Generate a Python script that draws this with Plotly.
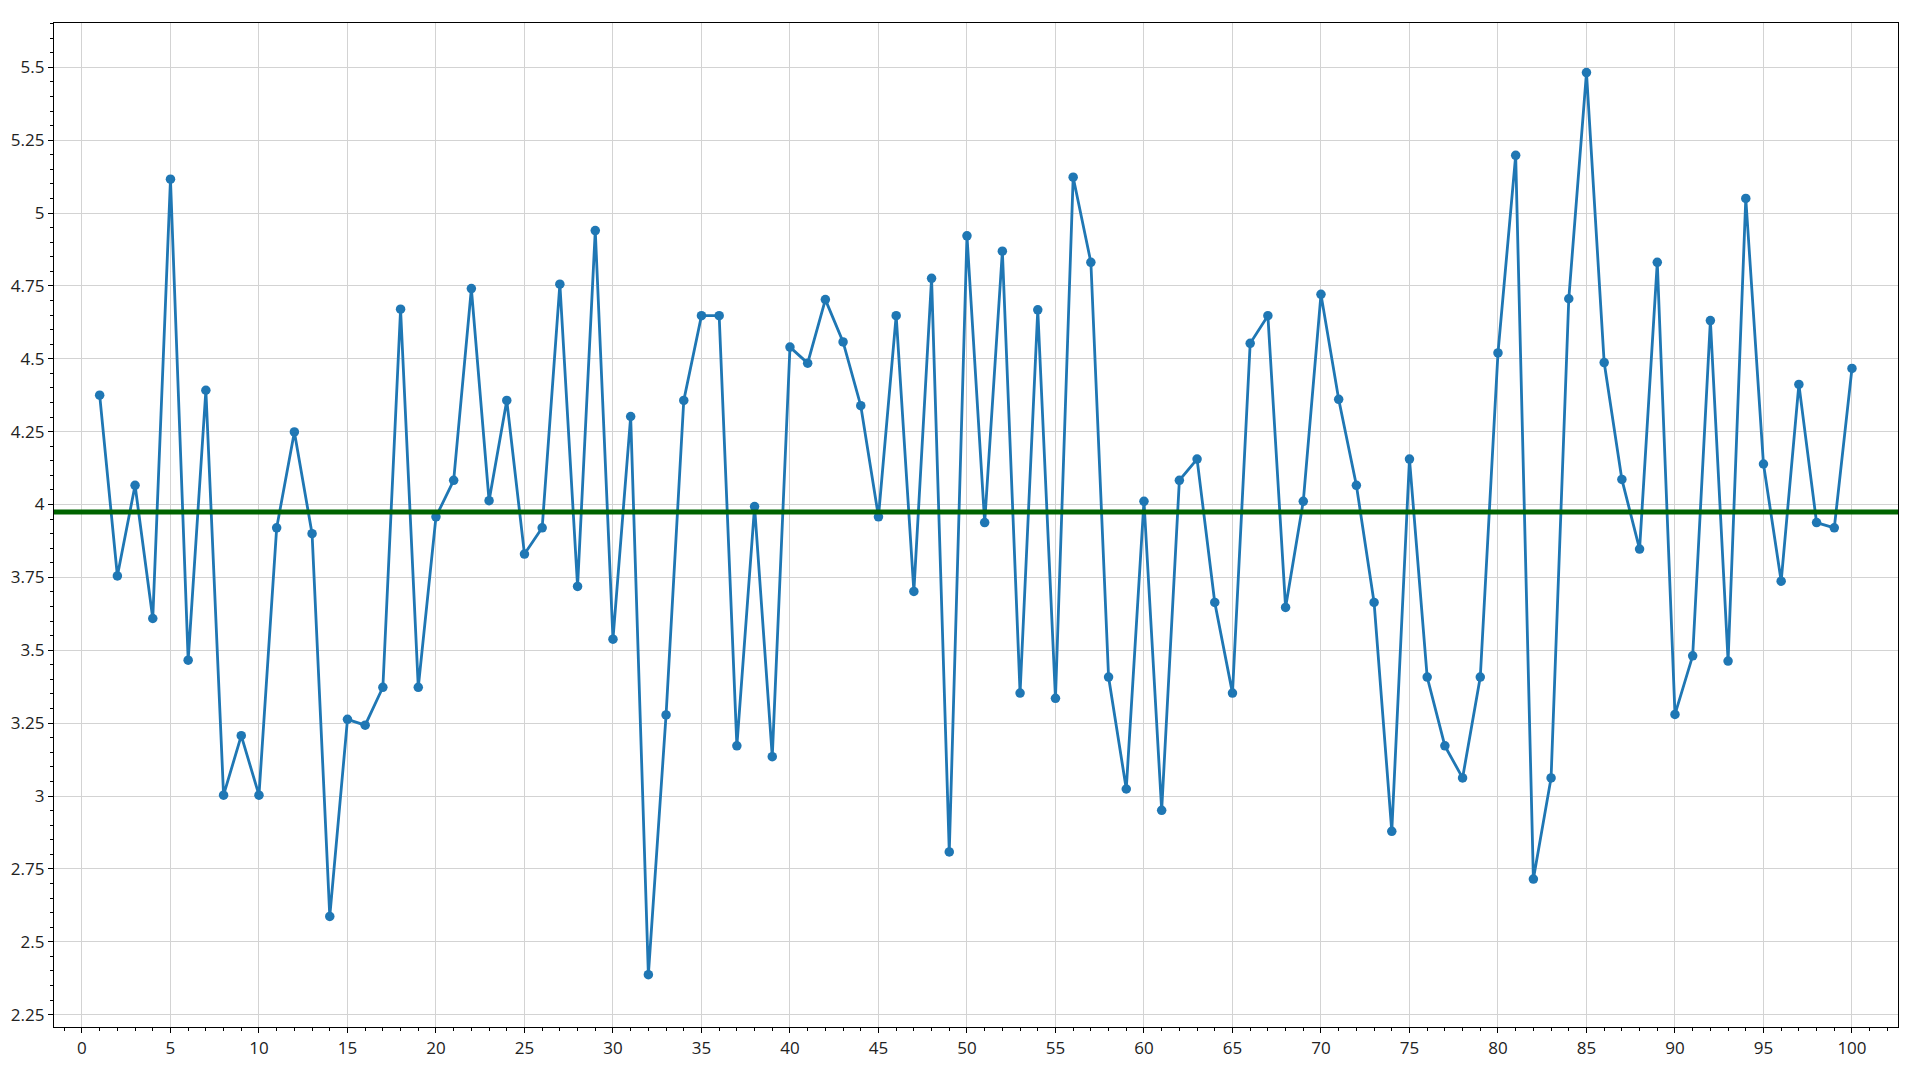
import plotly.graph_objects as go

x_vals = list(range(1, 101))
y_vals = [
    4.375, 3.755, 4.066, 3.609, 5.116, 3.466, 4.392, 3.003, 3.207, 3.003,
    3.920, 4.249, 3.900, 2.587, 3.263, 3.243, 3.373, 4.670, 3.373, 3.958,
    4.083, 4.741, 4.013, 4.357, 3.830, 3.920, 4.756, 3.719, 4.940, 3.538,
    4.302, 2.387, 3.278, 4.357, 4.648, 4.648, 3.172, 3.993, 3.135, 4.540,
    4.485, 4.703, 4.558, 4.339, 3.958, 4.648, 3.702, 4.776, 2.808, 4.922,
    3.938, 4.869, 3.353, 4.668, 3.335, 5.123, 4.831, 3.408, 3.024, 4.011,
    2.951, 4.083, 4.156, 3.664, 3.353, 4.553, 4.648, 3.647, 4.011, 4.721,
    4.361, 4.066, 3.664, 2.879, 4.156, 3.408, 3.172, 3.062, 3.408, 4.520,
    5.198, 2.715, 3.062, 4.706, 5.482, 4.487, 4.086, 3.847, 4.831, 3.280,
    3.481, 4.631, 3.463, 5.050, 4.139, 3.737, 4.412, 3.938, 3.920, 4.467,
]
ref_value = 3.974

x_tickvals = list(range(0, 101, 5))
x_ticktext = [str(v) for v in x_tickvals]
y_tickvals = [2.25, 2.5, 2.75, 3.0, 3.25, 3.5, 3.75, 4.0, 4.25, 4.5, 4.75, 5.0, 5.25, 5.5]
y_ticktext = ["2.25", "2.5", "2.75", "3", "3.25", "3.5", "3.75", "4", "4.25", "4.5", "4.75", "5", "5.25", "5.5"]

fig = go.Figure()
fig.add_trace(go.Scatter(
    x=x_vals, y=y_vals, mode="lines+markers",
    line=dict(color="#1f77b4", width=2.8),
    marker=dict(color="#1f77b4", size=9.5),
    showlegend=False,
))
fig.add_hline(y=ref_value, line=dict(color="#006400", width=5), layer="above")

axis_common = dict(
    showline=True, linecolor="black", linewidth=1.3, mirror=True,
    ticks="outside", ticklen=5, tickwidth=1, tickcolor="black",
    showgrid=True, gridcolor="#d3d3d3", gridwidth=1,
    zeroline=False, automargin=False,
    tickfont=dict(family="Open Sans", size=17, color="#222222"),
)

fig.update_xaxes(
    range=[-1.58, 102.6], tickmode="array", tickvals=x_tickvals, ticktext=x_ticktext,
    minor=dict(dtick=1, tick0=0, ticks="outside", ticklen=3, tickcolor="black", showgrid=False),
    **axis_common,
)
fig.update_yaxes(
    range=[2.2075, 5.652], tickmode="array", tickvals=y_tickvals, ticktext=y_ticktext,
    minor=dict(dtick=0.05, tick0=0, ticks="outside", ticklen=3, tickcolor="black", showgrid=False),
    **axis_common,
)

fig.update_layout(
    width=1920, height=1080,
    margin=dict(l=46, r=30, t=15, b=61),
    paper_bgcolor="white", plot_bgcolor="white",
)

fig.write_html("out.html")
